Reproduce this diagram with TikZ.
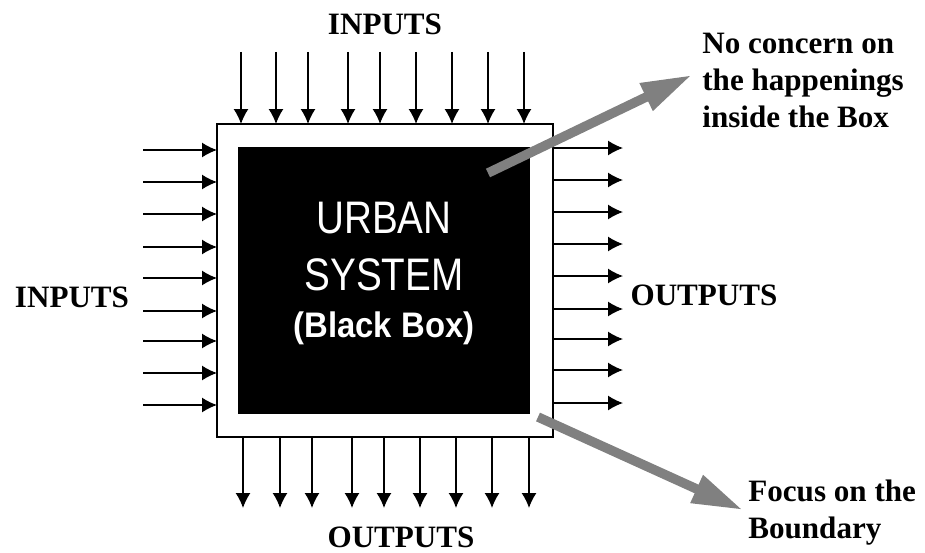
\documentclass[tikz,border=0pt]{standalone}
\usepackage{fontspec}
\setmainfont{Liberation Serif}
\setsansfont{Liberation Sans}
\usetikzlibrary{arrows.meta}

\begin{document}
\begin{tikzpicture}[x=0.02cm,y=0.02cm,
    ar/.style={line width=0.85pt,-{Latex[length=8.5pt,width=8.5pt]}},
    gr/.style={line width=5.4pt,color={rgb,255:red,128;green,128;blue,128},
               -{Triangle[length=29pt,width=16pt]}},
    lbl/.style={font=\fontsize{17.7}{21}\selectfont\bfseries,inner sep=0pt},
    ctr/.style={font=\sffamily\fontsize{22}{26}\selectfont,text=white,inner sep=0pt}]
                    \useasboundingbox (0,0) rectangle (925,552);

                    \coordinate (E1) at (217,428);
                    \coordinate (E2) at (553,428);
                    \coordinate (E3) at (217,115);
                    \coordinate (E4) at (553,115);
                    \draw[line width=1.1pt] (E1) -- (E2) -- (E4) -- (E3) -- cycle;

                    \coordinate (B1) at (238,405);
                    \coordinate (B2) at (530,405);
                    \coordinate (B3) at (238,138);
                    \coordinate (B4) at (530,138);
                    \fill[black] (B1) -- (B2) -- (B4) -- (B3) -- cycle;

                    \foreach \x [count=\i] in {241,276,308,348,380,416,452,488,524}{
                      \coordinate (T\i) at (\x,500);
                      \coordinate (U\i) at (\x,428);
                      \draw[ar] (T\i) -- (U\i);
                    }
                    \foreach \x [count=\i] in {243,280,312,352,384,420,456,492,529}{
                      \coordinate (D\i) at (\x,115);
                      \coordinate (O\i) at (\x,44);
                      \draw[ar] (D\i) -- (O\i);
                    }
                    \foreach \y [count=\i] in {402,370,338,305,274,241,211,179,147}{
                      \coordinate (L\i) at (143,\y);
                      \coordinate (M\i) at (217,\y);
                      \draw[ar] (L\i) -- (M\i);
                    }
                    \foreach \y [count=\i] in {404,372,340,308,276,243,213,182,149}{
                      \coordinate (R\i) at (553,\y);
                      \coordinate (S\i) at (623,\y);
                      \draw[ar] (R\i) -- (S\i);
                    }

                    \node[ctr,anchor=base] (C1) at (384,319) {\scalebox{1}[1.18]{URBAN}};
                    \node[ctr,anchor=base] (C2) at (384,262) {\scalebox{1}[1.18]{SYSTEM}};
                    \node[ctr,anchor=base,font=\sffamily\bfseries\fontsize{18.7}{22}\selectfont] (C3) at (384,215) {\scalebox{1}[1.08]{(Black Box)}};

                    \node[lbl] (IT) at (385,528) {INPUTS};
                    \node[lbl] (IL) at (72,255) {INPUTS};
                    \node[lbl] (OR) at (704,257) {OUTPUTS};
                    \node[lbl] (OB) at (401,15) {OUTPUTS};

                    \coordinate (G1) at (488,379);
                    \coordinate (G2) at (692,477);
                    \draw[gr] (G1) -- (G2);
                    \node[lbl,align=left,anchor=north west] (N1) at (702,519)
                      {No concern on\\the happenings\\inside the Box};

                    \coordinate (H1) at (538,135);
                    \coordinate (H2) at (743,42);
                    \draw[gr] (H1) -- (H2);
                    \node[lbl,align=left,anchor=north west] (N2) at (748,72)
                      {Focus on the\\Boundary};
\end{tikzpicture}
\end{document}
